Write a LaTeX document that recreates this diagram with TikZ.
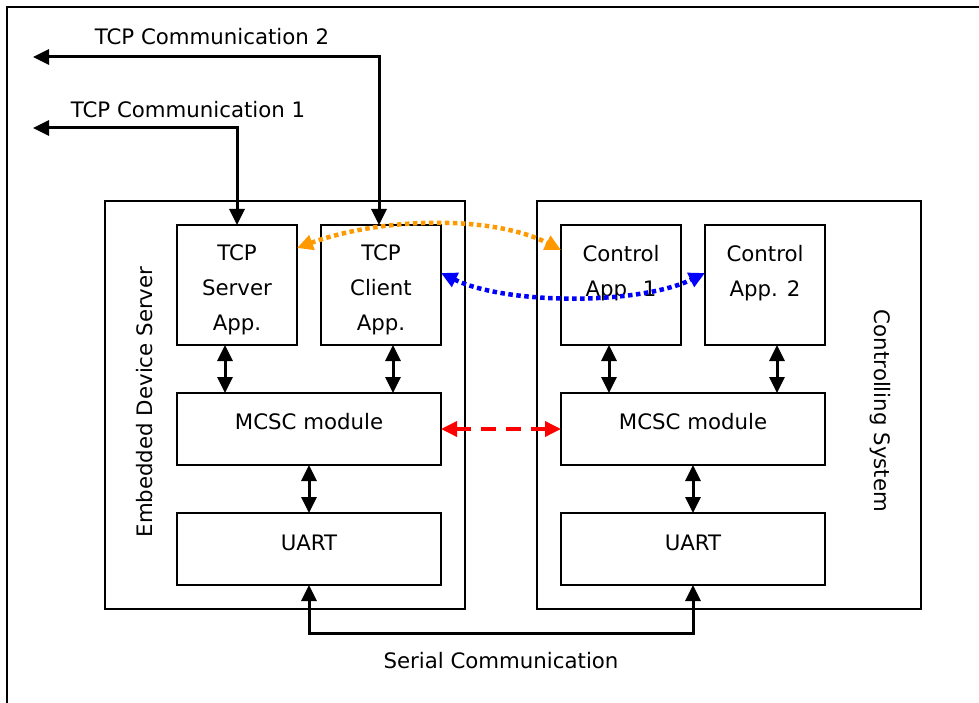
\documentclass[tikz,border=0pt]{standalone}
\usepackage{fontspec}
\setmainfont{DejaVu Sans}
\usetikzlibrary{arrows.meta}
\definecolor{myorange}{RGB}{255,153,0}
\begin{document}
\begin{tikzpicture}[x=1pt,y=-1pt,
  font=\fontsize{21.3}{35}\selectfont,
  box/.style={draw,line width=2pt,inner sep=0pt,outer sep=0pt,minimum width=#1},
  box/.default=120pt,
  lbl/.style={align=center,inner sep=0pt},
  dbl/.style={{Triangle[width=15pt,length=16pt]}-{Triangle[width=15pt,length=16pt]},line width=3pt},
  dotc/.style={dbl,line width=4.5pt,dash pattern=on 4.5pt off 3.5pt},
]
\useasboundingbox (0,0) rectangle (979,703);
% outer frame (partially visible)
\draw[line width=2.5pt] (7,703) -- (7,7) -- (979,7);
% outer boxes
\node[box=360pt,minimum height=408pt] (eds) at (285,405) {};
\node[box=384pt,minimum height=408pt] (cs) at (729,405) {};
\node[lbl,rotate=90] (edst) at (145,402) {Embedded Device Server};
\node[lbl,rotate=-90] (cst) at (880,411) {Controlling System};
% inner boxes left
\node[box,minimum height=120pt] (srv) at (237,285) {};
\node[box,minimum height=120pt] (cli) at (381,285) {};
\node[box=264pt,minimum height=72pt] (mcL) at (309,429) {};
\node[box=264pt,minimum height=72pt] (uaL) at (309,549) {};
% inner boxes right
\node[box,minimum height=120pt] (app1) at (621,285) {};
\node[box,minimum height=120pt] (app2) at (765,285) {};
\node[box=264pt,minimum height=72pt] (mcR) at (693,429) {};
\node[box=264pt,minimum height=72pt] (uaR) at (693,549) {};
% labels
\node[lbl] (srvt) at (237,290) {TCP\\Server\\App.};
\node[lbl] (clit) at (381,290) {TCP\\Client\\App.};
\node[lbl] (app1t) at (621,273) {Control\\App. 1};
\node[lbl] (app2t) at (765,273) {Control\\App. 2};
\node[lbl] (mcLt) at (309,422) {MCSC module};
\node[lbl] (mcRt) at (693,422) {MCSC module};
\node[lbl] (uaLt) at (309,543) {UART};
\node[lbl] (uaRt) at (693,543) {UART};
\node[lbl] (t2) at (212,37) {TCP Communication 2};
\node[lbl] (t1) at (188,110) {TCP Communication 1};
\node[lbl] (ser) at (501,661) {Serial Communication};
% TCP communication arrows
\coordinate (c2) at (33,57);
\coordinate (c1) at (33,128);
\draw[dbl] (c2) -| ([xshift=-2pt]cli.north);
\draw[dbl] (c1) -| (srv.north);
% vertical double arrows
\draw[dbl] ([xshift=-12pt]srv.south) -- ([xshift=-12pt]srv.south |- mcL.north);
\draw[dbl] ([xshift=12pt]cli.south) -- ([xshift=12pt]cli.south |- mcL.north);
\draw[dbl] ([xshift=-12pt]app1.south) -- ([xshift=-12pt]app1.south |- mcR.north);
\draw[dbl] ([xshift=12pt]app2.south) -- ([xshift=12pt]app2.south |- mcR.north);
\draw[dbl] (mcL.south) -- (uaL.north);
\draw[dbl] (mcR.south) -- (uaR.north);
% serial communication
\coordinate (sb) at (500,633);
\draw[dbl] (uaL.south) |- (sb) -| (uaR.south);
% dotted / dashed links
\draw[dotc,myorange] ([yshift=37pt]srv.east) .. controls (385,216) and (495,216) .. ([yshift=35pt]app1.west);
\draw[dotc,blue] ([yshift=12pt]cli.east) .. controls (507,305) and (639,305) .. ([yshift=12pt]app2.west);
\draw[dbl,red,line width=3.5pt,dash pattern=on 15pt off 10pt] (mcL.east) -- (mcR.west);
\end{tikzpicture}
\end{document}
